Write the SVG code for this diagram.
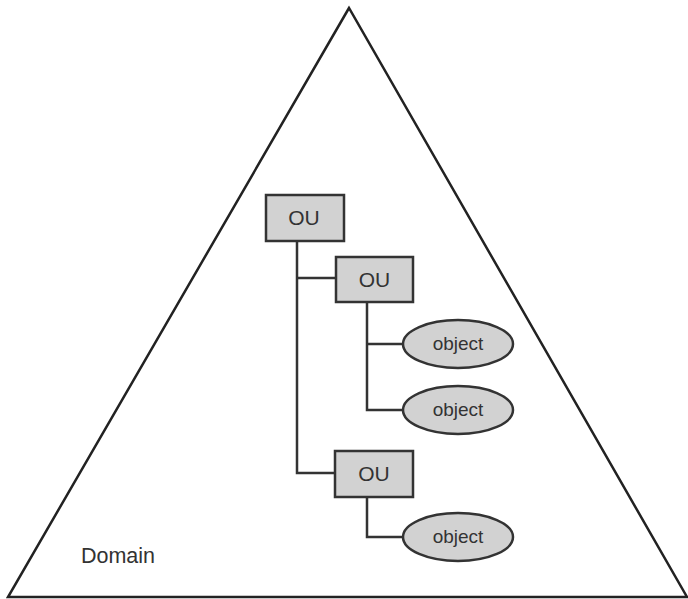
<svg xmlns="http://www.w3.org/2000/svg" width="688" height="599" viewBox="0 0 688 599">
<style>
.ou{fill:#d2d2d2;stroke:#333;stroke-width:2.5}
.obj{fill:#d2d2d2;stroke:#333;stroke-width:2.5}
.t{font-family:"Liberation Sans",Arial,sans-serif;fill:#333;text-anchor:middle}
.c{fill:none;stroke:#333;stroke-width:2.5}
</style>
<rect width="688" height="599" fill="#fff"/>
<g id="domain">
<polygon points="349,8 8,597 687,597" fill="none" stroke="#222" stroke-width="2.5"/>
<text x="118" y="563" class="t" style="font-size:21.5px">Domain</text>
</g>
<g id="connectors">
<path class="c" d="M297,241 V473 H335"/>
<path class="c" d="M297,278 H336"/>
<path class="c" d="M367,302 V410 H403"/>
<path class="c" d="M367,344 H403"/>
<path class="c" d="M367,497 V537 H403"/>
</g>
<g id="ou1"><rect class="ou" x="266" y="195" width="78" height="46"/><text class="t" x="304" y="225" style="font-size:21px">OU</text></g>
<g id="ou2"><rect class="ou" x="336" y="257" width="77" height="45"/><text class="t" x="374.5" y="287" style="font-size:21px">OU</text></g>
<g id="ou3"><rect class="ou" x="335" y="451" width="78" height="46"/><text class="t" x="374" y="481" style="font-size:21px">OU</text></g>
<g id="obj1"><ellipse class="obj" cx="458" cy="344" rx="55" ry="24"/><text class="t" x="458" y="350" style="font-size:19px">object</text></g>
<g id="obj2"><ellipse class="obj" cx="458" cy="410" rx="55" ry="24"/><text class="t" x="458" y="416" style="font-size:19px">object</text></g>
<g id="obj3"><ellipse class="obj" cx="458" cy="537" rx="55" ry="24"/><text class="t" x="458" y="543" style="font-size:19px">object</text></g>
</svg>
